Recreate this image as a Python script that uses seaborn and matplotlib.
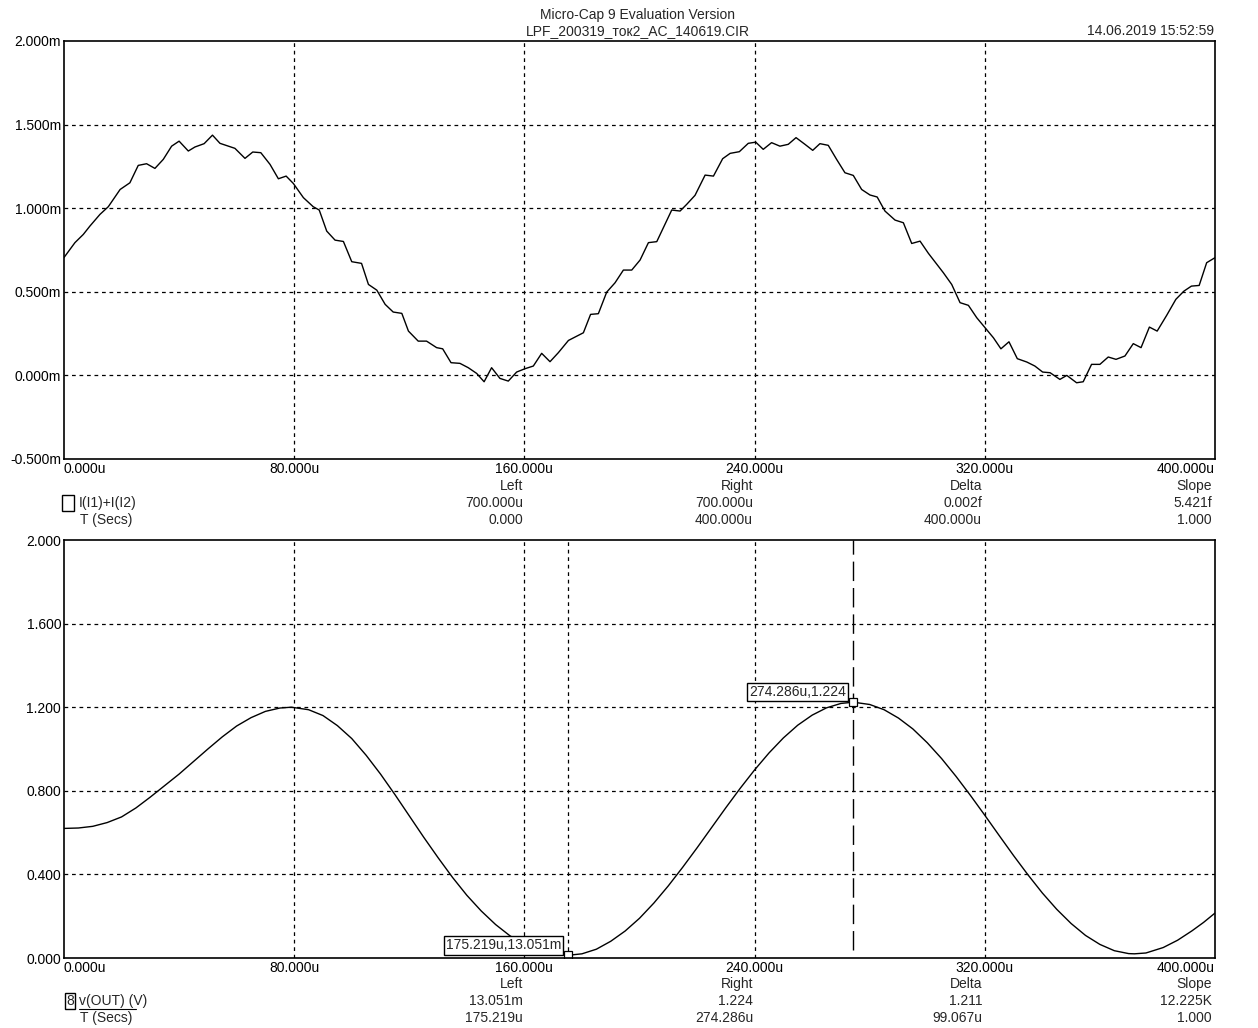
import matplotlib
matplotlib.use("Agg")
import matplotlib.pyplot as plt
from matplotlib.lines import Line2D
import seaborn as sns
import pandas as pd

# --- data (time in us) ---
t_top = [0, 3.8, 6.7, 9.0, 12.5, 15.4, 19.5, 22.9, 25.8, 28.7,
         31.6, 34.5, 37.4, 40.0, 43.2, 45.5, 48.7, 51.6, 54.2, 59.4,
         62.9, 65.6, 68.4, 71.6, 74.5, 77.2, 79.7, 83.2, 86.6, 88.7,
         91.3, 94.2, 97.1, 100.0, 103.4, 105.8, 108.7, 111.6, 114.4, 117.4,
         119.7, 123.1, 126.0, 129.5, 131.6, 134.5, 137.6, 140.5, 143.4, 146.0,
         148.6, 151.5, 154.4, 157.3, 160.2, 163.1, 166.0, 168.9, 171.8, 175.3,
         178.2, 180.5, 183.0, 185.7, 188.6, 191.5, 194.4, 197.3, 200.2, 203.1,
         206.0, 211.2, 214.1, 216.4, 219.3, 222.8, 225.7, 228.9, 231.5, 234.7,
         237.8, 240.4, 243.0, 245.9, 248.8, 251.7, 254.4, 257.5, 260.2, 262.7,
         265.6, 268.5, 271.4, 274.3, 277.2, 280.1, 282.6, 285.3, 288.8, 291.7,
         294.6, 297.5, 300.4, 305.6, 308.5, 311.4, 314.3, 317.2, 320.1, 323.0,
         325.6, 328.4, 331.3, 334.6, 337.4, 340.1, 342.7, 346.1, 348.5, 351.9,
         354.2, 357.1, 360.0, 362.9, 365.6, 368.7, 371.6, 374.3, 377.2, 379.9,
         383.2, 386.4, 389.2, 391.8, 394.5, 397.1, 400.0]
i_top = [0.705, 0.794, 0.843, 0.893, 0.963, 1.009, 1.112, 1.152, 1.256, 1.266,
         1.238, 1.292, 1.371, 1.401, 1.342, 1.366, 1.386, 1.437, 1.388, 1.358,
         1.298, 1.336, 1.332, 1.262, 1.176, 1.192, 1.148, 1.063, 1.009, 0.989,
         0.863, 0.809, 0.801, 0.680, 0.670, 0.544, 0.510, 0.425, 0.379, 0.371,
         0.265, 0.205, 0.205, 0.166, 0.159, 0.076, 0.072, 0.046, 0.012, -0.038,
         0.046, -0.018, -0.034, 0.020, 0.040, 0.056, 0.132, 0.082, 0.136, 0.209,
         0.235, 0.255, 0.365, 0.369, 0.498, 0.554, 0.630, 0.630, 0.690, 0.794,
         0.800, 0.989, 0.983, 1.023, 1.077, 1.198, 1.192, 1.296, 1.328, 1.338,
         1.388, 1.395, 1.352, 1.392, 1.371, 1.382, 1.422, 1.382, 1.346, 1.386,
         1.376, 1.292, 1.212, 1.196, 1.112, 1.079, 1.067, 0.983, 0.929, 0.913,
         0.789, 0.803, 0.730, 0.614, 0.544, 0.435, 0.419, 0.345, 0.285, 0.225,
         0.159, 0.201, 0.100, 0.080, 0.056, 0.020, 0.016, -0.024, 0.000, -0.044,
         -0.038, 0.066, 0.066, 0.110, 0.096, 0.116, 0.190, 0.166, 0.289, 0.265,
         0.359, 0.455, 0.504, 0.534, 0.538, 0.674, 0.704]

t_bot = [0, 5, 10, 15, 20, 25, 30, 35, 40, 45,
         50, 55, 60, 65, 70, 75, 79, 85, 90, 95,
         100, 105, 110, 115, 120, 125, 130, 135, 140, 145,
         150, 155, 160, 165, 170, 175.2, 180, 185, 190, 195,
         200, 205, 210, 215, 220, 225, 230, 235, 240, 245,
         250, 255, 260, 265, 270, 274.3, 280, 285, 290, 295,
         300, 305, 310, 315, 320, 325, 330, 335, 340, 345,
         350, 355, 360, 365, 370, 372, 376, 382, 387, 392,
         396, 400]
v_bot = [0.620, 0.622, 0.630, 0.648, 0.675, 0.718, 0.770, 0.825, 0.880, 0.940,
         1.000, 1.058, 1.110, 1.150, 1.180, 1.196, 1.200, 1.188, 1.160, 1.112,
         1.050, 0.970, 0.880, 0.782, 0.680, 0.578, 0.480, 0.386, 0.300, 0.225,
         0.160, 0.106, 0.065, 0.035, 0.018, 0.013, 0.020, 0.042, 0.080, 0.129,
         0.190, 0.263, 0.345, 0.434, 0.527, 0.623, 0.719, 0.812, 0.900, 0.981,
         1.053, 1.114, 1.162, 1.197, 1.218, 1.224, 1.213, 1.188, 1.148, 1.096,
         1.030, 0.954, 0.869, 0.778, 0.683, 0.586, 0.490, 0.398, 0.311, 0.233,
         0.165, 0.108, 0.065, 0.035, 0.021, 0.020, 0.024, 0.050, 0.085, 0.130,
         0.170, 0.215]

x_ticks = [0, 80, 160, 240, 320, 400]
top_yticks = [-0.5, 0.0, 0.5, 1.0, 1.5, 2.0]
bot_yticks = [0.0, 0.4, 0.8, 1.2, 1.6, 2.0]

cursor_left = (175.219, 0.013051)
cursor_right = (274.286, 1.224)

top_rows = [["Left", "Right", "Delta", "Slope"],
            ["700.000u", "700.000u", "0.002f", "5.421f"],
            ["0.000", "400.000u", "400.000u", "1.000"]]
bot_rows = [["Left", "Right", "Delta", "Slope"],
            ["13.051m", "1.224", "1.211", "12.225K"],
            ["175.219u", "274.286u", "99.067u", "1.000"]]

sns.set_theme(style="white")
plt.rcParams['font.family'] = ['Liberation Sans', 'DejaVu Sans']
plt.rcParams['font.size'] = 10
FS = 10

W, H = 1258, 1028
fig = plt.figure(figsize=(W / 100, H / 100), dpi=100)
fig.patch.set_facecolor("white")


def fx(px):
    return px / W


def fy(py):
    return 1 - py / H


ax1 = fig.add_axes([fx(64), fy(459), fx(1215) - fx(64), fy(41) - fy(459)])
ax2 = fig.add_axes([fx(64), fy(958), fx(1215) - fx(64), fy(540) - fy(958)])

df_top = pd.DataFrame({"t": t_top, "i": i_top})
df_bot = pd.DataFrame({"t": t_bot, "v": v_bot})
sns.lineplot(data=df_top, x="t", y="i", ax=ax1, color="black", lw=1.0, sort=False)
sns.lineplot(data=df_bot, x="t", y="v", ax=ax2, color="black", lw=1.0, sort=False)

grid_style = dict(color="black", lw=0.9, ls=(0, (3, 3)))
for ax, yt, ylim, fmt in [(ax1, top_yticks, (-0.5, 2.0), "{:.3f}m"),
                          (ax2, bot_yticks, (0.0, 2.0), "{:.3f}")]:
    ax.set_xlim(0, 400)
    ax.set_ylim(*ylim)
    ax.set_xticks(x_ticks)
    ax.set_yticks(yt)
    ax.set_xticklabels([f"{v:.3f}u" for v in x_ticks])
    ax.set_yticklabels([fmt.format(v) for v in yt])
    ax.tick_params(length=0, pad=2, labelsize=FS, colors="black")
    labs = ax.get_xticklabels()
    labs[0].set_ha("left")
    labs[-1].set_ha("right")
    for v in x_ticks[1:-1]:
        ax.axvline(v, **grid_style)
    for v in yt[1:-1]:
        ax.axhline(v, **grid_style)
    ax.set_xlabel("")
    ax.set_ylabel("")
    for s in ax.spines.values():
        s.set_color("black")
        s.set_linewidth(1.2)

# cursors on bottom plot
ax2.axvline(cursor_left[0], **grid_style)
ax2.plot([cursor_right[0], cursor_right[0]], [0.04, 2.0], color="black", lw=1.0,
         ls=(0, (14, 5)))
for (cx, cy), txt in [(cursor_left, "175.219u,13.051m"), (cursor_right, "274.286u,1.224")]:
    ax2.plot(cx, cy, marker="s", ms=6, mfc="white", mec="black", mew=0.9)
    ax2.annotate(txt, xy=(cx, cy), xytext=(-5, 2), textcoords="offset points",
                 ha="right", va="bottom", fontsize=FS,
                 bbox=dict(boxstyle="square,pad=0.15", fc="white", ec="black", lw=1.0))

# header text
fig.text(fx(638), fy(15), "Micro-Cap 9 Evaluation Version", ha="center", va="center", fontsize=FS)
fig.text(fx(638), fy(31), "LPF_200319_ток2_AC_140619.CIR", ha="center", va="center", fontsize=FS)
fig.text(fx(1214), fy(31), "14.06.2019 15:52:59", ha="right", va="center", fontsize=FS)

# cursor tables under each plot
col_x = [523, 753, 982, 1212]
for rows, y0 in [(top_rows, 486), (bot_rows, 984)]:
    for r, row in enumerate(rows):
        for cx, txt in zip(col_x, row):
            fig.text(fx(cx), fy(y0 + 17 * r), txt, ha="right", va="center", fontsize=FS)
    fig.text(fx(80), fy(y0 + 34), "T (Secs)", ha="left", va="center", fontsize=FS)

# legend entries
fig.text(fx(65), fy(503), "  ", ha="left", va="center", fontsize=8,
         bbox=dict(boxstyle="square,pad=0.25", fc="white", ec="black", lw=1.0))
fig.text(fx(79), fy(503), "I(I1)+I(I2)", ha="left", va="center", fontsize=FS)
fig.text(fx(66), fy(1001), "8", ha="left", va="center", fontsize=FS,
         bbox=dict(boxstyle="square,pad=0.1", fc="white", ec="black", lw=1.0))
fig.text(fx(79), fy(1001), "v(OUT) (V)", ha="left", va="center", fontsize=FS)
fig.add_artist(Line2D([fx(79), fx(136)], [fy(1009), fy(1009)], color="black", lw=0.8))

fig.savefig("out.png", dpi=100, facecolor="white")
